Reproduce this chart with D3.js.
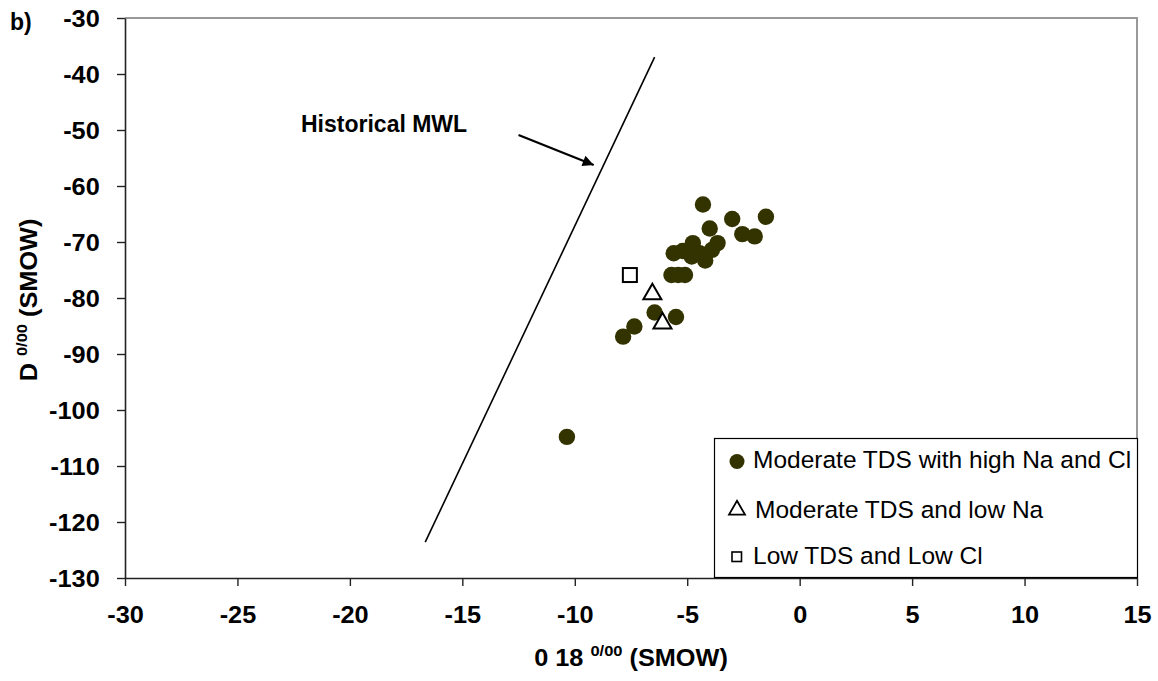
<!DOCTYPE html>
<html><head><meta charset="utf-8">
<script src="https://cdn.jsdelivr.net/npm/d3@7/dist/d3.min.js"></script>
<style>body{margin:0;background:#fff;} text{font-family:"Liberation Sans",Arial,sans-serif;}</style>
</head><body>
<svg id="c" width="1158" height="681"></svg>
<script>
// Data
const xTicks = [-30,-25,-20,-15,-10,-5,0,5,10,15];
const yTicks = [-30,-40,-50,-60,-70,-80,-90,-100,-110,-120,-130];
const highNaX = [-4.3,-3.0,-1.5,-4.0,-2.55,-2.0,-4.75,-3.65,-3.9,-5.6,-5.2,-4.8,-4.2,-4.45,-5.7,-5.4,-5.1,-6.45,-5.5,-7.35,-7.85,-10.35];
const highNaY = [-63.3,-65.9,-65.5,-67.6,-68.6,-69.0,-70.2,-70.2,-71.4,-72.0,-71.6,-72.6,-73.3,-72.0,-75.9,-75.9,-75.9,-82.6,-83.4,-85.1,-86.9,-104.8];
const lowNaX = [-6.55,-6.1];
const lowNaY = [-79.3,-84.5];
const lowTdsX = [-7.55];
const lowTdsY = [-75.9];
const mwlX = [-16.65,-6.45];
const mwlY = [-123.6,-37.0];
const arrowX = [-12.5,-9.16];
const arrowY = [-50.9,-56.25];
const legendLabels = ["Moderate TDS with high Na and Cl","Moderate TDS and low Na","Low TDS and Low Cl"];

const svg = d3.select("#c");
const x = d3.scaleLinear().domain([-30,15]).range([125,1137]);
const y = d3.scaleLinear().domain([-130,-30]).range([578,18]);

// frame top/right (gray)
svg.append("path").attr("d",`M${x(-30)},${y(-30)}H${x(15)}V${y(-130)}`)
  .attr("fill","none").attr("stroke","#999").attr("stroke-width",2);

// axes
const fmt = d => String(d);
const gx = svg.append("g").attr("transform",`translate(0,${y(-130)})`)
  .call(d3.axisBottom(x).tickValues(xTicks).tickSize(8).tickSizeOuter(0).tickFormat(fmt));
const gy = svg.append("g").attr("transform",`translate(${x(-30)},0)`)
  .call(d3.axisLeft(y).tickValues(yTicks).tickSize(8).tickSizeOuter(0).tickFormat(fmt));
[gx,gy].forEach(g=>{
  g.selectAll("path.domain").attr("stroke","#222").attr("stroke-width",1.6);
  g.selectAll(".tick line").attr("stroke","#222").attr("stroke-width",1.4);
  g.selectAll(".tick text").attr("fill","#000").style("font-size","23px").style("font-weight","bold")
    .attr("font-family",null);
});
gx.selectAll(".tick text").attr("y",45).attr("dy",0).attr("transform","scale(1.1,1)");
gy.selectAll(".tick text").attr("x",-23).attr("dy","0.36em").attr("transform","scale(1.1,1)");

// MWL line
svg.append("line").attr("x1",x(mwlX[0])).attr("y1",y(mwlY[0])).attr("x2",x(mwlX[1])).attr("y2",y(mwlY[1]))
  .attr("stroke","#000").attr("stroke-width",1.6);

// arrow
svg.append("defs").append("marker").attr("id","ah").attr("viewBox","0 0 10 10").attr("refX",10).attr("refY",5)
  .attr("markerWidth",6).attr("markerHeight",5).attr("orient","auto").attr("markerUnits","strokeWidth")
  .append("path").attr("d","M0,0L10,5L0,10Z").attr("fill","#000");
svg.append("line").attr("x1",x(arrowX[0])).attr("y1",y(arrowY[0])).attr("x2",x(arrowX[1])).attr("y2",y(arrowY[1]))
  .attr("stroke","#000").attr("stroke-width",2.2).attr("marker-end","url(#ah)");
svg.append("text").attr("x",301).attr("y",132).style("font-size","23px").style("font-weight","bold").text("Historical MWL");

// points
const circ = highNaX.map((v,i)=>[v,highNaY[i]]);
svg.append("g").selectAll("circle").data(circ).join("circle")
  .attr("cx",d=>x(d[0])).attr("cy",d=>y(d[1])).attr("r",8.2).attr("fill","#333300");
const tri = d3.symbol().type(d3.symbolTriangle).size(140);
svg.append("g").selectAll("path").data(lowNaX.map((v,i)=>[v,lowNaY[i]])).join("path")
  .attr("d",tri).attr("transform",d=>`translate(${x(d[0])},${y(d[1])})`)
  .attr("fill","#fff").attr("stroke","#000").attr("stroke-width",2);
svg.append("g").selectAll("rect").data(lowTdsX.map((v,i)=>[v,lowTdsY[i]])).join("rect")
  .attr("x",d=>x(d[0])-7).attr("y",d=>y(d[1])-7).attr("width",14).attr("height",14)
  .attr("fill","#fff").attr("stroke","#000").attr("stroke-width",2);

// legend
svg.append("rect").attr("x",714.5).attr("y",438.5).attr("width",423).attr("height",139)
  .attr("fill","#fff").attr("stroke","#000").attr("stroke-width",1.2);
const ly = [468,518,564];
svg.append("circle").attr("cx",737).attr("cy",461.5).attr("r",7.5).attr("fill","#333300");
svg.append("path").attr("d",d3.symbol().type(d3.symbolTriangle).size(110)).attr("transform","translate(737,510)")
  .attr("fill","#fff").attr("stroke","#000").attr("stroke-width",1.8);
svg.append("rect").attr("x",732).attr("y",552).attr("width",9.5).attr("height",9.5)
  .attr("fill","#fff").attr("stroke","#000").attr("stroke-width",1.6);
legendLabels.forEach((t,i)=>{
  svg.append("text").attr("x",i===1?755:753).attr("y",ly[i]).style("font-size","24.5px").text(t);
});

// axis titles
const xt = svg.append("text").attr("transform","translate(631,666) scale(1.1,1)").attr("text-anchor","middle")
  .style("font-size","23px").style("font-weight","bold");
xt.append("tspan").text("0 18 ");
xt.append("tspan").attr("dy",-10).style("font-size","15px").text("0/00");
xt.append("tspan").attr("dy",10).text(" (SMOW)");
const yt = svg.append("text").attr("transform","translate(37,300) rotate(-90) scale(1.1,1)").attr("text-anchor","middle")
  .style("font-size","23px").style("font-weight","bold");
yt.append("tspan").text("D ");
yt.append("tspan").attr("dy",-10).style("font-size","15px").text("0/00");
yt.append("tspan").attr("dy",10).text(" (SMOW)");

svg.append("text").attr("x",10).attr("y",30).style("font-size","23px").style("font-weight","bold").text("b)");
</script>
</body></html>
